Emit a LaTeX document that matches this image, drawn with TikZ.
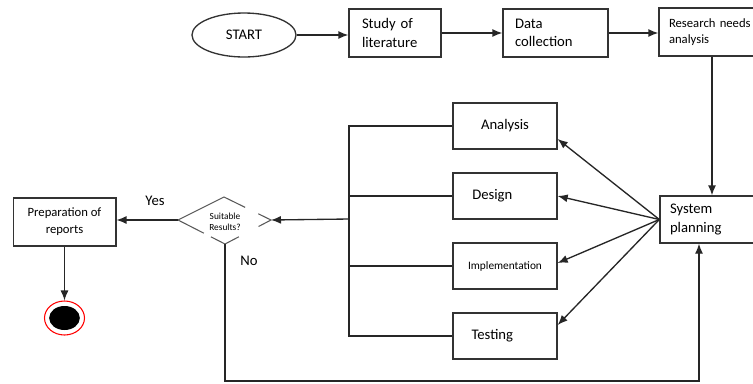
\documentclass[tikz,border=0pt]{standalone}
\usepackage{fontspec}
\setmainfont{Carlito}
\usetikzlibrary{shapes.geometric,calc,arrows.meta}

\tikzset{
  blk/.style={draw=black!80, line width=1pt, inner sep=0pt},
  lbox/.style={blk, align=left, minimum height=36pt, inner xsep=7.5pt},
  cbox/.style={blk, align=center, minimum width=78pt, minimum height=34.5pt},
  line/.style={draw=black!85, line width=1pt},
  dgm/.style={draw=black!65, line width=0.8pt},
}

\begin{document}
\begin{tikzpicture}[x=0.75pt, y=-0.75pt, >={Latex[length=7.5pt,width=6pt]},
  font=\fontsize{11pt}{14pt}\selectfont]
\useasboundingbox (0,0) rectangle (753,383);
\clip (0,0) rectangle (753,383);
%\draw[help lines, step=50] (0,0) grid (753,383);

% top row
\node[blk, ellipse, minimum width=78pt, minimum height=33pt] (start) at (244,35) {START};
\node[lbox, text width=49.5pt, inner xsep=9.75pt] (study) at (395,33) {Study of\\literature};
\node[lbox, text width=60.75pt, inner xsep=9pt] (data) at (555.5,33) {Data\\collection};
\node[lbox, text width=64.5pt, font=\fontsize{9.5pt}{12pt}\selectfont] (research) at (712,32) {Research needs\\analysis};
\draw[line,->] (start.east) -- (start.east -| study.west);
\draw[line,->] (study) -- (data);
\draw[line,->] (data.east) -- (data.east -| research.west);

% planning and phases
\node[lbox, text width=63pt, minimum height=35.25pt] (system) at (712,219.5) {System\\planning};
\draw[line,->] (research.south) -- (system.north);
\node[cbox] (analysis) at (505,126) {Analysis};
\node[cbox] (design) at (505,196) {\raisebox{-4pt}{Design}\hspace{19pt}};
\node[cbox, font=\fontsize{8.5pt}{10pt}\selectfont] (impl) at (505,266) {Implementation};
\node[cbox] (testing) at (505,336) {Testing\hspace{19pt}};
\draw[line,->] (system.west) -- ([yshift=-9.75pt]analysis.east);
\draw[line,->] (system.west) -- (design.east);
\draw[line,->] (system.west) -- ([yshift=2.25pt]impl.east);
\draw[line,->] (system.west) -- ([yshift=8.25pt]testing.east);

\coordinate (bus) at (349,219);
\draw[line] (analysis.west) -| (bus) |- (testing.west);
\draw[line] (design.west) -- (design.west -| bus);
\draw[line] (impl.west) -- (impl.west -| bus);

% decision
\coordinate (sl) at (178,220);
\coordinate (st) at (224,197);
\coordinate (sr) at (271,220);
\coordinate (sb) at (225,244);
\node[align=center, font=\fontsize{7pt}{8.5pt}\selectfont] (suit) at (225,222) {Suitable\\Results?};
\draw[dgm] (sl) -- (st) -- ($(st)!0.45!(sr)$);
\draw[dgm] ($(sr)!0.27!(st)$) -- (sr) -- ($(sr)!0.27!(sb)$);
\draw[dgm] (sl) -- ($(sl)!0.55!(sb)$);
\draw[dgm] ($(sb)!0.3!(sl)$) -- (sb) -- ($(sb)!0.3!(sr)$);
\draw[line,->] (bus) -- (sr);

\node[font=\fontsize{11pt}{12pt}\selectfont] (yes) at (155,201) {Yes};
\node[font=\fontsize{11pt}{12pt}\selectfont] (no) at (249,261) {No};

% reports and end
\node[cbox, minimum width=77pt, minimum height=36pt, font=\fontsize{9.5pt}{12.75pt}\selectfont] (report) at (64.5,222) {Preparation of\\reports};
\draw[line,->] (sl) -- (sl -| report.east);
\node[draw=red, line width=0.8pt, ellipse, minimum width=30pt, minimum height=25.5pt, inner sep=0pt] (stop) at (64.5,318) {};
\fill[black] (stop.center) ellipse [x radius=11.5pt, y radius=9pt];
\draw[line,->] (report.south) -- (stop.north);

% loop back
\coordinate (loopl) at (225,381);
\coordinate (loopr) at (699,381);
\draw[line,->] (sb) -- (loopl) -- (loopr) -- (loopr |- system.south);
\end{tikzpicture}
\end{document}
